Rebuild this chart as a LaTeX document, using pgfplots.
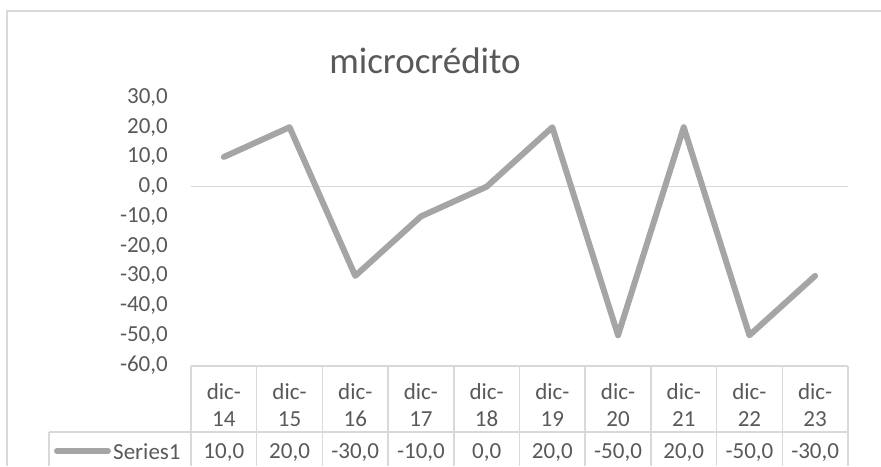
\documentclass[border=0pt]{standalone}
\usepackage{fontspec}
\setmainfont{Carlito}
\usepackage{pgfplots}
\pgfplotsset{compat=1.18}
\usepackage{pgfplotstable}

\definecolor{linegray}{HTML}{A5A5A5}
\definecolor{gridgray}{HTML}{D9D9D9}
\definecolor{txtgray}{HTML}{595959}

% microcredito, dic-14 ... dic-23
\pgfplotstableread{
x v
0 10
1 20
2 -30
3 -10
4 0
5 20
6 -50
7 20
8 -50
9 -30
}\micro

\newcommand{\tabfont}{\fontsize{23}{27.6}\selectfont}

\begin{document}
\begin{tikzpicture}
  % frame and data table grid (1 unit = 1 px, y downwards)
  \begin{scope}[x=1pt, y=-1pt]
    \useasboundingbox (0,0) rectangle (881,466);
    \draw[gridgray, line width=1.5pt] (7,466) -- (7,11) -- (881,11);
    \draw[gridgray, line width=1.5pt] (191,366) -- (848,366);
    \draw[gridgray, line width=1.5pt] (49,432) -- (848,432);
    \draw[gridgray, line width=1.5pt] (49,432) -- (49,466);
    \foreach \k in {0,...,10} {
      \draw[gridgray, line width=1.5pt] ({191+65.7*\k},366) -- ({191+65.7*\k},466);
    }
    \draw[linegray, line width=6pt, line cap=round] (57,451) -- (108,451);
    \node[anchor=base west, inner sep=0pt, text=txtgray, font=\tabfont] at (113,459) {Series1};
    \node[anchor=base, inner sep=0pt, text=txtgray, font=\fontsize{37}{44}\selectfont] at (425,73) {microcrédito};
  \end{scope}

  \begin{axis}[
    at={(191pt,-365pt)}, anchor=south west,
    scale only axis,
    width=657pt, height=267.5pt,
    xmin=-0.5, xmax=9.5,
    ymin=-60, ymax=30,
    clip=false,
    axis line style={draw=none},
    tick style={draw=none},
    xtick=data,
    xticklabels={{dic-\\14},{dic-\\15},{dic-\\16},{dic-\\17},{dic-\\18},
                 {dic-\\19},{dic-\\20},{dic-\\21},{dic-\\22},{dic-\\23}},
    xticklabel style={align=center, anchor=north, inner sep=0pt, yshift=-18pt,
                      font=\tabfont, text=txtgray},
    ytick={-60,-50,...,30},
    yticklabel style={anchor=east, inner sep=0pt, xshift=-23pt,
                      font=\tabfont, text=txtgray},
    /pgf/number format/.cd, fixed, fixed zerofill, precision=1, use comma,
      assume math mode=true,
  ]
    \draw[gridgray, line width=1.5pt] (axis cs:-0.5,0) -- (axis cs:9.5,0);

    \addplot[linegray, line width=6pt, line join=round, line cap=round]
      table[x=x, y=v] {\micro};

    % values row of the data table
    \addplot[draw=none, mark=none, nodes near coords, point meta=explicit,
      every node near coord/.append style={anchor=base, inner sep=0pt,
        font=\tabfont, text=txtgray}]
      table[x=x, y expr=-91.6, meta=v] {\micro};
  \end{axis}
\end{tikzpicture}
\end{document}
